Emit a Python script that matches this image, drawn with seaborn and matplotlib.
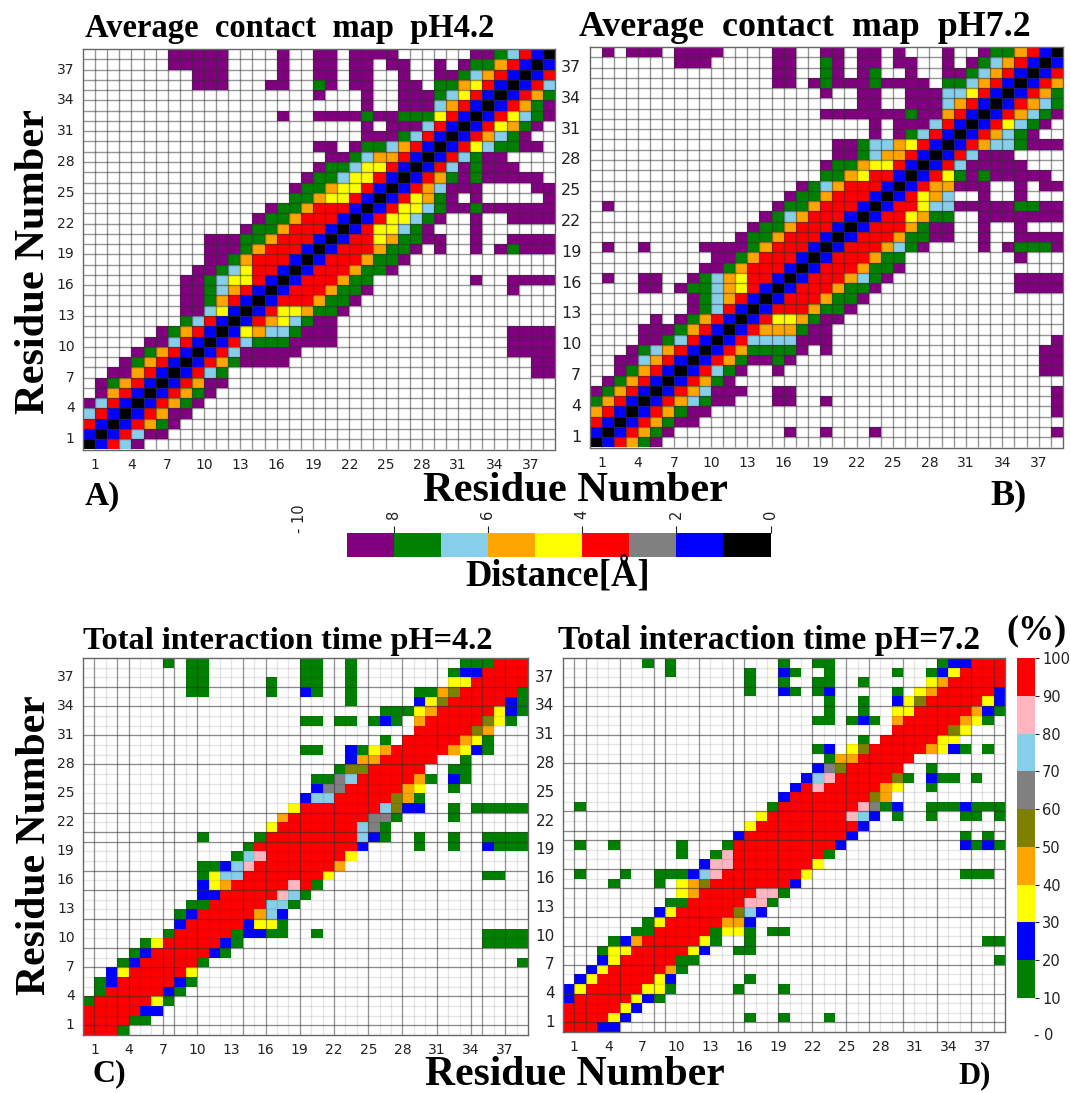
import numpy as np
import pandas as pd
import seaborn as sns
import matplotlib.pyplot as plt
from matplotlib.cm import ScalarMappable
from matplotlib.colors import ListedColormap, BoundaryNorm

# residue labels on both axes
residue_ticks = list(range(1, 38, 3))

# contact map cells, top row (residue 39) first
# k<1 b<2 g<3 r<4 y<5 o<6 s<7 G<8 p<9 A, .=no contact
contact_ph42 = [
    ".......ppppp....p.." "pp.pppp......ppGsrbk",
    ".......ppppp....p.." "pp.pp.pp..p.pGGorbkb",
    ".........ppp....p.." "pp.pp..p..ppGsorbkbr",
    ".........ppp...pp.." "Gp.pp..pp.GGoyrbkbrs",
    "..................." "p...p..pppGsyrbkbroG",
    "..................." "....p..pppsorbkbroGp",
    "................p.." "ppppGppGGGyrbkbrysGp",
    "..................." "....p.pppsrbkbryoGp.",
    "..................." "....pppGsrbkbrosGp..",
    "..................." "pp.pGGsorbkbrysGGpp.",
    "..................." ".ppGsoorbkbrsGpp....",
    "..................." "pGGsyyrbkbrspGppp...",
    "..................p" "GGsyyrbkbroGpGppppp.",
    ".................pG" "Goyyrbkbrosppp....pp",
    ".................GG" "oyyrbkbryoGp.p.....p",
    "...............pGGo" "rrrbkbryysGppGpppppp",
    "..............pGGor" "rrbkbryysGp..p..pppp",
    ".............pGGorr" "rbkbryysGp...p......",
    "..........pppGGorrr" "bkbrryoGGpp..p..pppp",
    "..........pppGorrrb" "kbrrroGGp.p..p.pGppp",
    "..........ppGorrrbk" "brrroGGp............",
    ".........ppGsyrrbkb" "rrroGGp.............",
    "........ppGsyyrbkbr" "rroGG........p..pppp",
    "........ppGsorbkbrr" "roGGp...........p...",
    "........ppGorbkbrrr" "oGGp................",
    "........ppsybkbryyo" "GGp.................",
    "........GsrbkbroysG" "pp..................",
    "......pGorbkbyossGp" "pp..............pppp",
    ".....ppsrbkbrsGGGpp" "pp..............pppp",
    "....pGorbkbrsppppp." "................pppp",
    "...pGorbkbroGpppp.." "..................pp",
    "..pporbkbrsG......." "..................pp",
    ".pGorbkbropp.......",
    ".porbkbroGp........",
    "psrbkbroGp.........",
    "srbkbropp..........",
    "rbkbroGp...........",
    "bkbrspp............",
    "kbrsp..............",
]

contact_ph72 = [
    ".p.ppp.pppp....pp" "..pp.pp.p...p..pGGorbk",
    ".......ppp.....pp" "..Gp.pp.pp..p.pGsorbkb",
    "...............pp" "..Gp.pG..p..ppGsorbkbr",
    "...............pp" ".pGpppGpppp.GGsorbkbro",
    "................." "..p..pp..pppssyrbkbroG",
    "................." ".....pp..pppsorbkbrosG",
    "................." "..pppppppGpporbkbrosGp",
    "................." "......p.pppsrbkbrysGp.",
    "................." "......p.pGsrbkbrosGp..",
    "................." "...ppGssoyrbkbrossGppp",
    "................." "...ppGsoorbkbrsppp....",
    "................." "..pGGoyyrbkbrsppppp...",
    "................." "..GGoyrrbkbryGpGppppp.",
    "................." "pGsorrrbkbrooppp..p.pp",
    "................p" "GGorrrbkbryos..p..p...",
    ".p.............pG" "GorrrbkbrrysspppppGGpp",
    "..............pGs" "orrrbkbrryoGG..ppppppp",
    ".............pGGo" "rrrbkbrrroGpp..p..p...",
    "............pGGor" "rrbkbrrroGGpp..p..pppp",
    ".p..p....ppppGorr" "rbkbrrrosGp....p.pGGGp",
    "..........ppGorrr" "bkbrrroGG.........p...",
    ".........ppGorrrb" "kbrrroGGp.............",
    ".p..pp..pGsoyrrbk" "brrrosGp..........pppp",
    "....pp.pGGsoyrbkb" "rrroGGp...........pppp",
    "........pGsorbkbr" "rroGGp................",
    "........pGsrbkbrr" "roGGp.................",
    ".....p.pGorbkbryy" "oGpp..................",
    "....pppGorbkbrooo" "Gpp...................",
    "....ppGsrbkbrssss" "ppp..................p",
    "...pGsorbkbroGGGG" "p.p.................pp",
    "..ppsorbkbroGppGp" "....................pp",
    "..pGorbkbrsGp..p." "....................pp",
    ".pGorbkbroGp.....",
    "pGorbkbrosppp..pp" ".....................p",
    "GorbkbrosGpp...pp" "..p..................p",
    "orbkbroGpp......." ".....................p",
    "rbkbroGpp........",
    "bkbroGp.........p" "..p...p..............p",
    "kbroGp...........",
]

# interaction time cells, same order
# G 10-20, b 20-30, y 30-40, o 40-50, l 50-60, g 60-70, s 70-80, n 80-90, r 90-100 %
time_ph42 = [
    ".......G.G" "G........G" "G..G......" "...GGGrrr",
    ".........G" "G........G" "G..G......" "..Gbbrrrr",
    ".........G" "G.....G..G" "G..G......" "..yyrrrrr",
    ".........G" "G.....G..b" "G..G.....G" "GolrrrrrG",
    ".........." ".........." "...G.....b" "ylrrrrrbG",
    ".........." ".........." "......GGGy" "orrrrrybG",
    ".........." ".........G" "G.GG.GbG.o" "rrrrrlyG.",
    ".........." ".........." ".........r" "rrrrlo...",
    ".........." ".........." "......G.rr" "rrroyG...",
    ".........." ".........G" "G..bGyorrr" "rroybG...",
    ".........." ".........." "...boorrrr" "r..G.....",
    ".........." ".........." "..Gllrrrrr" "..GG.....",
    ".........." ".........." "GGgsrrrrro" "G.bG.....",
    ".........." ".........." "bggrrrrroy" "..G......",
    ".........." ".........b" "ssrrrrrloG" ".........",
    ".........." "........yr" "rrrrrrslbb" "..G.GGGGG",
    ".........." ".......orr" "rrrrrggG.." "..G......",
    ".........." "......yrrr" "rrrrsgG..." ".........",
    ".........." "G....Grrrr" "rrrrsbG..G" "..G..GGGG",
    ".........." "....Grrrrr" "rrrrb....G" "..G..bGGG",
    ".........." "...Gsnrrrr" "rrry......" ".........",
    ".........." "GGbsnrrrrr" "rro......." ".........",
    ".........." "Gyssrrrrrr" "ry........" ".....GG..",
    ".........." "byorrrrrnr" "G.........",
    ".........." "bbrrrrrnsG",
    ".........G" "GrrrrrssG.",
    "........Gb" "rrrrrosb..",
    "........br" "rrrrbyyG..",
    ".......Grr" "rrrGbbGG.." "G........." ".....GGGG",
    ".....Gyrrr" "rrbG......" ".........." ".....GGGG",
    "....Gbrrrr" "rbG.......",
    "...Gbrrrrr" "G........." ".........." "........G",
    "..byrrrrry",
    ".GbrrrrrbG",
    ".GrrrrrbG.",
    "GrrrrryG..",
    "rrrrrbb...",
    "rrrrGG....",
    "rrrG......",
]

time_ph72 = [
    ".......G.G" ".........G" "..GG......" "...Gbbrrr",
    ".........G" "......G..b" "G..G.....G" "..Gbyrrrr",
    ".........." "......G..G" "..GG..G..." "..yorrrrr",
    ".........." "......G..b" "G.Gb.....G" ".yorrrrrb",
    ".........." ".........." "...G..G..b" "ylrrrrryb",
    ".........." ".........." "...G..G..y" "yrrrrrobG",
    ".........." ".........." "..GG.GbG.o" "rrrrroyG.",
    ".........." ".........." ".........r" "rrrrly...",
    ".........." ".........." "......G.rr" "rrryy....",
    ".........." ".........." "..Gb.ylrrr" "rroybG.G.",
    ".........." ".........." "...Goorrrr" "r........",
    ".........." ".........." "..bglrrrrr" "..G......",
    ".........." ".........." ".bsnrrrrrl" "G.bGG.G..",
    ".........." ".........." "brnrrrrroy" "..G......",
    ".........." ".........b" "rrrrrrrlo." ".........",
    ".G........" "........Gr" "rrrrrrngGb" "..GGGbGGG",
    ".........." ".......yrr" "rrrrrnsb.G" "..G..GG.G",
    ".........." "......yrrr" "rrrrrrb..." ".........",
    ".........." ".....brrrr" "rrrrrb...." ".....G.G.",
    ".G..G....." "G...Grrrrr" "rrrrb....." ".....bGbG",
    ".........." "G..Gnrrrrr" "rrrG......" ".........",
    ".........." "..bnnrrrrr" "rry......." ".........",
    ".G...G..GG" "Gbsnrrrrrr" "ry........" ".....GGG.",
    "....G...G." "yolrrrrrrr" "b.........",
    ".........." "yorrrrrnnG",
    ".........G" "GrrrrrnnG.",
    "........by" "rrrrrlsb..",
    ".......Gyr" "rrrroob...",
    "......GGrr" "rrrGyyG.GG",
    "....Gborrr" "rryG..G..." ".........." ".......GG",
    "...Gyyrrrr" "ryb..GG...",
    "...byrrrrr" "GG........" ".........." "........G",
    "..byrrrrro" "G.........",
    ".byrrrrryb" "......G...",
    "byrrrrryyG" ".....G...G",
    "brrrrrybG.",
    "rrrrryb...",
    "rrrryb...." "......G..G" "...G......",
    "rrrbb.....",
]

distance_codes = dict(zip("kbgryosGp", np.arange(0.5, 9)))
time_codes = dict(zip("Gbyolgsnr", np.arange(15, 100, 10)))
distance_colors = ["black", "blue", "gray", "red", "yellow", "orange", "skyblue", "green", "purple"]
time_colors = ["green", "blue", "yellow", "orange", "olive", "gray", "skyblue", "lightpink", "red"]

# dark lines of the bottom panels, everything else is pale
dark_rows = [3, 5, 8, 11, 16, 18, 19, 22, 24, 27, 30, 32, 35, 38]
dark_cols_c = [1, 3, 4, 7, 8, 10, 14, 16, 19, 22, 25, 28, 31, 34, 35, 37]
dark_cols_d = [1, 2, 5, 8, 9, 12, 15, 16, 19, 22, 25, 27, 30, 33, 36, 38]

W, H = 1071, 1093
SERIF = "Liberation Serif"


def to_frame(rows, codes):
    table = [[codes.get(c, np.nan) for c in r.ljust(39, ".")] for r in rows]
    return pd.DataFrame(table, index=range(39, 0, -1), columns=range(1, 40))


def box(x0, y0, x1, y1):
    return fig.add_axes([x0 / W, 1 - y1 / H, (x1 - x0) / W, (y1 - y0) / H])


def draw_panel(pos, rows, codes, colors, vmin, vmax, xsize, ysize):
    ax = box(*pos)
    df = to_frame(rows, codes)
    sns.heatmap(df, ax=ax, cmap=ListedColormap(colors), vmin=vmin, vmax=vmax,
                cbar=False, square=False)
    ax.set_xticks(residue_ticks)
    ax.set_xticklabels(residue_ticks, rotation=0, fontsize=xsize)
    ax.set_yticks([39 - n for n in residue_ticks])
    ax.set_yticklabels(residue_ticks, rotation=0, fontsize=ysize)
    ax.set_xticks([n + 1.5 for n in residue_ticks], minor=True)
    ax.tick_params(axis="both", length=3, width=0.9, pad=3, color="#222222", labelcolor="#222222")
    ax.tick_params(axis="x", which="minor", length=1.5, width=0.8)
    ax.set_xlabel("")
    ax.set_ylabel("")
    for s in ax.spines.values():
        s.set_visible(True)
        s.set_color("#666666")
        s.set_linewidth(1.0)
    return ax


sns.set_style("white")
fig = plt.figure(figsize=(W / 100, H / 100), dpi=100)

# top row, full cell grid
ax_a = draw_panel((83, 49, 555, 449.5), contact_ph42, distance_codes, distance_colors, 0, 9, 10, 10)
ax_b = draw_panel((589.5, 47, 1063, 447.5), contact_ph72, distance_codes, distance_colors, 0, 9, 10, 11.5)
for ax in (ax_a, ax_b):
    ax.vlines(range(1, 39), 0, 39, color="#303030", alpha=0.5, lw=1.0)
    ax.hlines(range(1, 39), 0, 39, color="#303030", alpha=0.5, lw=1.0)

# bottom row, pale grid with some dark lines
ax_c = draw_panel((83, 658, 528, 1035), time_ph42, time_codes, time_colors, 10, 100, 10, 10)
ax_d = draw_panel((563, 658, 1005, 1032), time_ph72, time_codes, time_colors, 10, 100, 10, 11)
for ax, dark_cols in ((ax_c, dark_cols_c), (ax_d, dark_cols_d)):
    ax.vlines(range(1, 39), 0, 39, color="#303030", alpha=0.12, lw=1.0)
    ax.hlines(range(1, 39), 0, 39, color="#303030", alpha=0.12, lw=1.0)
    ax.vlines(dark_cols, 0, 39, color="#303030", alpha=0.45, lw=0.9)
    ax.hlines(dark_rows, 0, 39, color="#303030", alpha=0.5, lw=0.9)

# distance colorbar, runs from 9 down to 0
cax = box(346.5, 533, 770.5, 557)
sm = ScalarMappable(norm=BoundaryNorm(np.arange(0, 10), 9), cmap=ListedColormap(distance_colors))
cb = fig.colorbar(sm, cax=cax, orientation="horizontal", drawedges=False, spacing="proportional")
cax.set_xlim(9, 0)
cax.xaxis.set_ticks_position("top")
cax.set_xticks([8, 6, 4, 2, 0])
cax.set_xticklabels(["8", "6", "4", "2", "0"], rotation=90, fontsize=10.5)
cax.tick_params(axis="x", length=5, width=0.8, pad=5, color="#222222", labelcolor="#222222")
cax.minorticks_off()
cb.outline.set_visible(False)
cax.text(10, 1.0, "- 10", rotation=90, fontsize=10.5, color="#222222", ha="center", va="bottom",
         transform=cax.get_xaxis_transform(), clip_on=False)

# percent colorbar, 0 tick sits below the bar
tax = box(1016.5, 658, 1035, 998)
sm2 = ScalarMappable(norm=BoundaryNorm(np.arange(10, 101, 10), 9), cmap=ListedColormap(time_colors))
cb2 = fig.colorbar(sm2, cax=tax, orientation="vertical", spacing="proportional")
tax.set_yticks(np.arange(10, 101, 10))
tax.set_yticklabels([str(v) for v in np.arange(10, 101, 10)], fontsize=10.5)
tax.tick_params(axis="y", length=3, width=0.8, pad=2, color="#222222", labelcolor="#222222")
tax.minorticks_off()
cb2.outline.set_visible(False)
fig.text(1034 / W, 1 - 1036 / H, "- 0", fontsize=10.5, color="#222222", ha="left", va="center")


def label(x, y, s, size, rotation=0, ha="center"):
    fig.text(x / W, 1 - y / H, s, family=SERIF, weight="bold", fontsize=size,
             rotation=rotation, ha=ha, va="center", color="black")


label(85, 28, "Average  contact  map  pH4.2", 23.5, ha="left")
label(579, 27, "Average  contact  map  pH7.2", 25.8, ha="left")
label(83, 641, "Total interaction time pH=4.2", 23.3, ha="left")
label(558, 641, "Total interaction time pH=7.2", 24, ha="left")
label(34, 262, "Residue Number", 30.5, rotation=90)
label(35, 845, "Residue Number", 30, rotation=90)
label(575, 491, "Residue Number", 30.5)
label(575, 1075, "Residue Number", 30)
label(558, 576, "Distance[Å]", 26.3)
label(1036, 631, "(%)", 26)
label(85, 497, "A)", 24, ha="left")
label(990, 496, "B)", 26, ha="left")
label(92, 1074, "C)", 23, ha="left")
label(958, 1076, "D)", 22, ha="left")

plt.savefig("out.png", dpi=100)
